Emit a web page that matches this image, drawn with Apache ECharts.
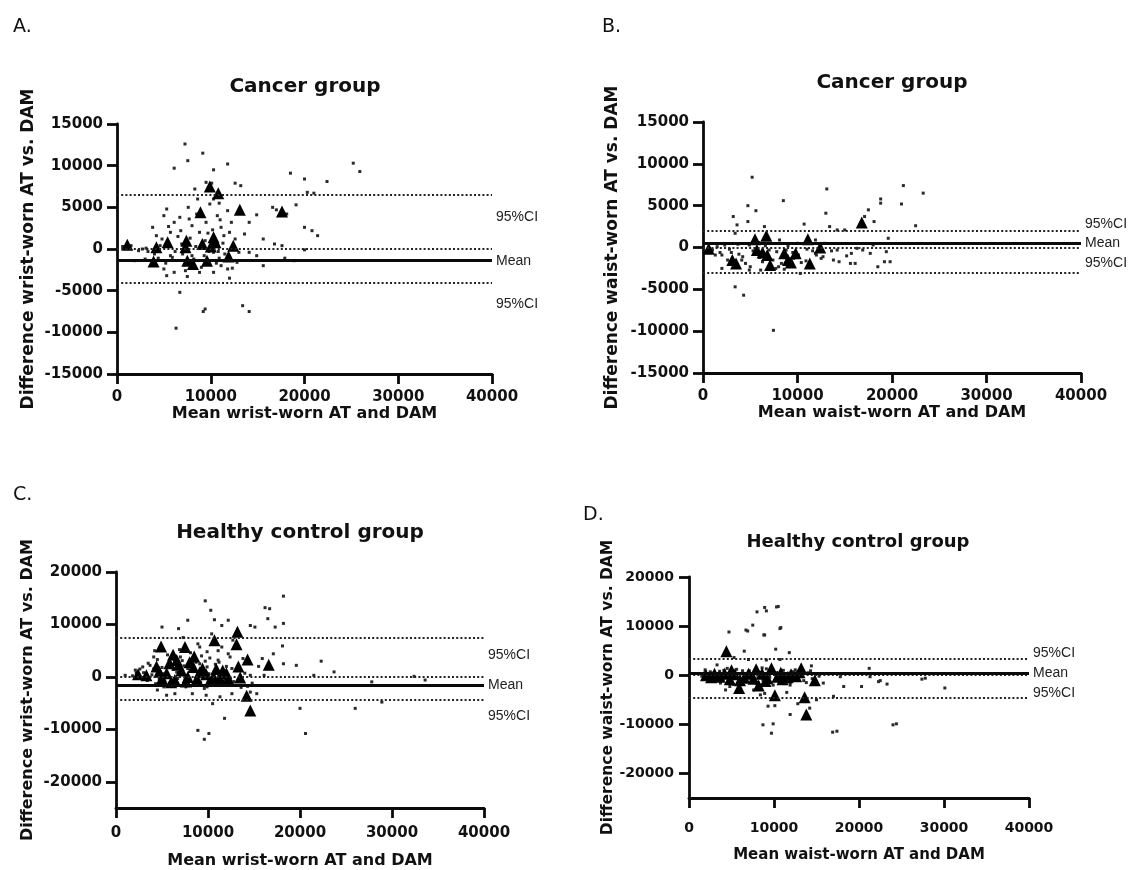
<!DOCTYPE html>
<html><head><meta charset="utf-8">
<script src="https://cdn.jsdelivr.net/npm/echarts@6/dist/echarts.min.js"></script>
<style>html,body{margin:0;padding:0;background:#fff}#c{width:1132px;height:870px}</style>
</head><body><div id="c"></div>
<script>
// ---------- tick labels ----------
const xTicks = [0, 10000, 20000, 30000, 40000];
const yTicksCancer = [-15000, -10000, -5000, 0, 5000, 10000, 15000];
const yTicksHealthy = [-20000, -10000, 0, 10000, 20000];

// ---------- texts ----------
const letters = ['A.', 'B.', 'C.', 'D.'];
const titles = ['Cancer group', 'Cancer group', 'Healthy control group', 'Healthy control group'];
const yNames = ['Difference wrist-worn AT vs. DAM', 'Difference waist-worn AT vs. DAM', 'Difference wrist-worn AT vs. DAM', 'Difference waist-worn AT vs. DAM'];
const xNames = ['Mean wrist-worn AT and DAM', 'Mean waist-worn AT and DAM', 'Mean wrist-worn AT and DAM', 'Mean waist-worn AT and DAM'];
const lineLabels = ['95%CI', 'Mean', '95%CI'];

// ---------- Panel A: cancer, wrist ----------
const aMean = -1400;
const aCI = [6500, -4000];
const aTriangles = [[1100,500],[4200,200],[5400,800],[3900,-1500],[7400,1000],[7500,-1400],[8100,-1800],[9100,600],[8900,4400],[9900,7500],[10800,6700],[10300,1400],[10500,800],[9600,-1400],[11900,-900],[12400,400],[13100,4700],[17600,4500],[7300,200],[10000,300]];
const aDots = [[7250,12600],[7550,10600],[6100,9700],[9150,11500],[10300,9500],[11800,10200],[12600,7900],[13200,7600],[18500,9100],[20000,8400],[22400,8100],[25200,10300],[25900,9300],[19100,5300],[20300,6800],[21000,6700],[20000,2600],[20800,2200],[21400,1600],[18100,4200],[17000,4700],[16600,5000],[14900,4100],[14100,3200],[15600,1200],[16800,600],[17600,400],[20000,-100],[15600,-2000],[14100,-7500],[13400,-6800],[9200,-7500],[9400,-7200],[6300,-9500],[6700,-5200],[9900,5400],[10300,6000],[8600,6000],[7600,5000],[5000,4000],[5300,4800],[6700,3800],[3800,2600],[4200,1600],[5700,2000],[6100,3200],[8000,2800],[8800,2000],[9500,3200],[11100,2600],[12200,3200],[11400,1600],[6900,600],[5700,-800],[5000,-2400],[6100,-2800],[7300,-2600],[8000,-800],[8800,-2800],[10300,-2800],[11100,-2000],[11800,-2400],[2700,0],[1900,-1400],[3100,100],[14100,-400],[14900,-800],[10300,-400],[12600,1200],[10700,4000],[11800,4600],[17900,-1100],[18900,-1400],[3300,-300],[4600,400],[5900,-1000],[6500,1500],[7000,-600],[8400,300],[9300,-800],[10800,-300],[11300,700],[12800,-1600],[600,300],[2300,-200],[4400,-1100],[7800,1300],[9700,1900],[10900,-1100],[4000,-600],[4800,1200],[5200,-1700],[5500,2700],[6200,-300],[6800,2200],[7200,-1900],[7700,3600],[8200,-1200],[8500,4200],[9000,-2200],[9400,1000],[9800,-300],[10200,2300],[10600,-1700],[11000,3500],[11500,-600],[12000,2000],[12300,-2300],[13000,-400],[13600,1800],[8300,7200],[9500,8000],[10100,7900],[10900,5500],[12000,-3500],[7500,-3300],[5300,-3200],[3000,-1200],[1500,400]];

// ---------- Panel B: cancer, waist ----------
const bMean = 500;
const bCI = [2000, -3000];
const bTriangles = [[600,-150],[3100,-1500],[3500,-1900],[5500,1000],[6700,1400],[6300,-600],[6800,-900],[7100,-2100],[8600,-700],[9000,-1500],[9300,-1800],[9800,-700],[11100,1000],[11300,-1900],[12400,0],[16800,3000],[5700,-300]];
const bDots = [[5200,8400],[4750,5000],[5600,4400],[3200,3700],[3600,2700],[4750,3100],[8500,5600],[13100,7000],[13000,4100],[10700,2800],[18800,5800],[18800,5300],[21000,5200],[21200,7400],[23300,6500],[22500,2600],[17500,4500],[17100,3700],[18100,3100],[19600,1100],[3400,-4700],[4300,-5700],[7450,-9900],[2000,-2500],[4900,-2700],[8000,-2300],[10300,-3100],[12700,-1100],[13800,-1500],[14400,-1700],[15600,-1900],[15700,-700],[16900,-300],[18500,-2300],[19200,-1700],[19800,-1700],[19400,-500],[13400,2500],[14200,2100],[15000,2100],[11900,900],[10000,500],[1500,100],[2000,-900],[2600,-1500],[4200,-1100],[4900,300],[9600,-1300],[11900,-700],[14200,-300],[16300,-100],[17700,-700],[6100,-2700],[3400,1700],[6500,2500],[1000,-300],[1800,-600],[2800,-200],[3800,-800],[4500,-1900],[5300,-400],[6000,-1200],[6600,200],[7400,-1500],[7800,-500],[8300,-1900],[8800,-300],[9300,-2200],[10100,-900],[10900,-1600],[11600,-400],[12500,-1300],[700,-500],[1300,-900],[2300,300],[3000,-600],[3700,400],[4100,-1500],[5000,-2300],[5500,-800],[5900,600],[6300,-1700],[7000,-300],[7700,-2500],[8100,900],[8600,-2600],[9000,200],[9500,-600],[10400,-1800],[11000,-200],[12000,-900],[12900,500],[13600,-400],[15200,-1000],[16100,-1900],[18000,300]];

// ---------- Panel C: healthy, wrist ----------
const cMean = -1600;
const cCI = [7400, -4300];
const cTriangles = [[4900,5800],[7500,5700],[6200,4200],[8500,3900],[10700,7000],[13200,8600],[13100,6200],[14300,3300],[16600,2300],[13300,2000],[13500,-100],[14200,-3600],[14600,-6400],[6800,2300],[5500,700],[6400,-600],[7800,0],[9100,900],[10600,0],[11600,1200],[12200,-300],[8400,1900],[2400,500],[3300,300],[4700,1000],[9800,500],[4400,2000],[5000,-300],[5800,2600],[6000,-1000],[6600,3200],[7100,1200],[7600,-900],[8000,2800],[8800,-400],[9400,1600],[10200,-800],[10900,1500],[11300,-200],[12000,700]];
const cDots = [[9700,14500],[10300,12700],[10700,10900],[18200,15400],[16200,13200],[16700,13000],[16500,11100],[17300,9500],[18200,10200],[14600,9800],[15100,9500],[12200,10800],[11500,9800],[7800,10800],[6800,9200],[5000,9500],[18100,5900],[19600,2200],[18200,2500],[17100,4400],[15900,3500],[22300,3000],[23700,950],[21500,300],[32400,100],[33600,-600],[27800,-950],[28900,-4800],[26000,-6000],[20000,-6000],[20600,-10800],[8900,-10200],[9600,-11900],[10100,-10800],[11800,-7900],[10500,-5100],[8300,-3200],[6400,-3200],[4500,-2500],[3700,2200],[2900,1900],[4100,3800],[9100,5700],[9900,4800],[11500,5700],[12200,4400],[11100,3200],[9100,2500],[12600,-3200],[14600,-2900],[15300,-3200],[11300,-3800],[9900,-1900],[7600,-1900],[5200,-1900],[14600,300],[16100,300],[13400,1300],[2100,1300],[1000,300],[2200,800],[2600,1500],[3100,-400],[3500,2600],[3900,400],[4300,-1300],[4500,3300],[5000,1800],[5300,-800],[5600,4200],[5900,2700],[6300,-1500],[6600,900],[6900,5200],[7200,3100],[7500,-500],[7800,1600],[8100,4600],[8400,-1200],[8700,2800],[9000,600],[9300,4000],[9600,-2200],[9900,1900],[10200,3600],[10500,-400],[10800,2400],[11100,5000],[11400,900],[11700,-1600],[12000,2000],[12400,3800],[12800,-900],[13100,1200],[13600,-2000],[14000,700],[14800,-1200],[15500,2000],[1800,200],[2500,-200],[3000,800],[3400,-700],[4100,1500],[4700,-500],[5200,600],[5800,-1200],[6200,1400],[6700,-300],[7000,3800],[7400,2100],[8000,-600],[8500,1000],[9200,-1000],[9700,3000],[10100,600],[10700,-1500],[11200,2800],[11900,-400],[12600,1600],[13800,3500],[14300,-1800],[4200,5000],[7300,7500],[8900,6300],[10400,8200],[12700,7000],[5500,-3500],[9800,-3500]];

// ---------- Panel D: healthy, waist ----------
const dMean = 400;
const dCI = [3400, -4500];
const dTriangles = [[4400,4900],[5900,-2600],[8200,-2100],[10100,-4100],[13600,-4500],[13800,-8000],[14800,-1000],[13200,1400],[5000,1000],[7900,1200],[9700,1400],[3000,300],[6500,-500],[11000,-800],[12000,200],[9200,-600],[2000,0],[2600,-400],[3600,-300],[4200,300],[4800,-800],[5400,200],[6000,-1000],[7000,300],[7600,-700],[8600,300],[9000,-1200],[10400,-300],[10800,500],[11600,-400],[12600,-200],[13000,600]];
const dDots = [[10300,13900],[8000,12900],[10700,9500],[8800,8200],[7500,10200],[6900,9000],[4700,8800],[6500,4900],[10200,5300],[11800,4600],[21200,1400],[22300,-1300],[20300,-2300],[23300,-1800],[27400,-800],[18200,-2300],[15800,-1600],[17000,-4300],[15000,-5000],[14200,-6700],[11900,-8000],[9300,-6300],[10100,-6200],[8700,-10100],[24000,-10100],[11900,-2000],[8400,-4000],[7600,-3000],[4800,-2300],[3600,-950],[2500,100],[1900,1100],[3300,2100],[9100,3100],[10700,3200],[14400,1900],[17800,-300],[21300,-300],[17400,-11400],[24400,-9900],[30100,-2600],[27800,-600],[22500,-1100],[8900,13800],[10500,14000],[9100,13100],[10800,9700],[8900,8200],[6700,9200],[9900,-9900],[9700,-11800],[16900,-11600],[1700,300],[2100,-400],[2500,700],[2900,-1000],[3300,200],[3700,-1600],[4100,1000],[4400,-300],[4800,500],[5200,-1900],[5600,1200],[6000,-600],[6400,300],[6700,-1300],[7100,900],[7500,-200],[7900,-1700],[8300,600],[8700,-1000],[9100,1300],[9500,-400],[9900,-2000],[10300,500],[10700,-1200],[11100,1000],[11500,-300],[11900,-1500],[12300,700],[12700,-600],[13100,300],[13500,-1100],[14000,500],[14500,-700],[15300,-200],[1500,-200],[1900,600],[2300,-700],[2800,400],[3200,-400],[3600,800],[4000,-900],[4500,1400],[5000,-500],[5500,300],[5900,-1400],[6300,900],[6800,-200],[7300,-1100],[7700,700],[8100,-500],[8600,1500],[9000,-1600],[9400,400],[9800,900],[10200,-900],[10600,200],[11200,-1700],[11700,400],[12100,-1000],[12500,1100],[13300,-300],[13800,-1500],[14300,900],[15000,-1400],[4300,-3000],[6100,-3300],[8900,-3700],[11500,-3500],[12800,-5800],[7000,3200],[5300,3600]];

// ---------- layout (pixels) ----------
const layout = [
  {left:117, top:124, width:375, height:250, yMin:-15000, yMax:15000, yTicks:yTicksCancer, tick:15, xMargin:16, yMargin:14, xGap:28, yGap:80, xFont:16, yFont:17, titleX:305, titleY:87, titleFont:20, letterX:13, letterY:27, lblOff:[22,0,22]},
  {left:703, top:122, width:378, height:251, yMin:-15000, yMax:15000, yTicks:yTicksCancer, tick:15, xMargin:16, yMargin:14, xGap:27, yGap:82, xFont:16, yFont:17, titleX:892, titleY:83, titleFont:20, letterX:602, letterY:27, lblOff:[-7,0,-9]},
  {left:116, top:572, width:368, height:236, yMin:-25000, yMax:20000, yTicks:yTicksHealthy, tick:15, xMargin:18, yMargin:14, xGap:45, yGap:80, xFont:16, yFont:16, titleX:300, titleY:533, titleFont:20, letterX:13, letterY:495, lblOff:[17,0,17]},
  {left:689, top:577, width:340, height:221, yMin:-25000, yMax:20000, yTicks:yTicksHealthy, tick:14, xMargin:23, yMargin:15, xGap:50, yGap:72, xFont:15, yFont:15.5, titleX:858, titleY:542, titleFont:18, letterX:583, letterY:515, lblOff:[-5,0,-4]}
];
const panelData = [
  {dots:aDots, tri:aTriangles, mean:aMean, ci:aCI},
  {dots:bDots, tri:bTriangles, mean:bMean, ci:bCI},
  {dots:cDots, tri:cTriangles, mean:cMean, ci:cCI},
  {dots:dDots, tri:dTriangles, mean:dMean, ci:dCI}
];

const FB = 'DejaVu Sans';
const chart = echarts.init(document.getElementById('c'), null, {renderer:'canvas'});
const grids = [], xAxes = [], yAxes = [], series = [], graphics = [];

layout.forEach((L, i) => {
  const P = panelData[i];
  grids.push({left:L.left, top:L.top, width:L.width, height:L.height, containLabel:false});
  const axisLineStyle = {color:'#0a0a0a', width:2.8};
  xAxes.push({
    gridIndex:i, type:'value', min:xTicks[0], max:xTicks[xTicks.length-1], interval:xTicks[1]-xTicks[0],
    axisLine:{show:true, onZero:false, lineStyle:axisLineStyle},
    axisTick:{show:true, length:10, lineStyle:{color:'#0a0a0a', width:2.8}},
    axisLabel:{margin:L.xMargin, fontFamily:FB, fontWeight:'bold', fontSize:L.tick, color:'#111', formatter:v => String(v)},
    splitLine:{show:false},
    name:xNames[i], nameLocation:'middle', nameGap:L.xGap,
    nameTextStyle:{fontFamily:FB, fontWeight:'bold', fontSize:L.xFont, color:'#111'}
  });
  yAxes.push({
    gridIndex:i, type:'value', min:L.yMin, max:L.yMax,
    axisLine:{show:true, onZero:false, lineStyle:axisLineStyle},
    axisTick:{show:true, length:10, lineStyle:{color:'#0a0a0a', width:2.8}, customValues:L.yTicks},
    axisLabel:{margin:L.yMargin, fontFamily:FB, fontWeight:'bold', fontSize:L.tick, color:'#111', formatter:v => String(v), customValues:L.yTicks},
    splitLine:{show:false},
    name:yNames[i], nameLocation:'middle', nameGap:L.yGap, nameRotate:90,
    nameTextStyle:{fontFamily:FB, fontWeight:'bold', fontSize:L.yFont, color:'#111'}
  });
  const dotted = {type:[2,2.2], width:2, color:'#222'};
  series.push({
    type:'scatter', xAxisIndex:i, yAxisIndex:i, data:P.dots, symbol:'rect', symbolSize:3,
    itemStyle:{color:'#2a2a2a', opacity:1}, silent:true, animation:false, z:2,
    markLine:{silent:true, symbol:['none','none'], animation:false, label:{show:false},
      data:[
        {yAxis:0, lineStyle:dotted},
        {yAxis:P.ci[0], lineStyle:dotted},
        {yAxis:P.ci[1], lineStyle:dotted},
        {yAxis:P.mean, lineStyle:{type:'solid', width:3, color:'#0a0a0a'}}
      ]}
  });
  series.push({
    type:'scatter', xAxisIndex:i, yAxisIndex:i, data:P.tri, symbol:'triangle', symbolSize:12,
    itemStyle:{color:'#000', opacity:1}, silent:true, animation:false, z:3
  });
  graphics.push({type:'text', x:L.letterX, y:L.letterY, style:{text:letters[i], font:'19px "DejaVu Sans"', fill:'#111', verticalAlign:'middle'}});
  graphics.push({type:'text', x:L.titleX, y:L.titleY, style:{text:titles[i], font:'bold '+L.titleFont+'px "DejaVu Sans"', fill:'#111', align:'center', verticalAlign:'middle'}});
});

chart.setOption({
  backgroundColor:'#fff', animation:false,
  grid:grids, xAxis:xAxes, yAxis:yAxes, series:series, graphic:graphics
});

// labels at the right end of the reference lines
layout.forEach((L, i) => {
  const P = panelData[i];
  const vals = [P.ci[0], P.mean, P.ci[1]];
  vals.forEach((v, k) => {
    const p = chart.convertToPixel({gridIndex:i}, [xTicks[xTicks.length-1], v]);
    graphics.push({type:'text', x:p[0]+4, y:p[1]+L.lblOff[k], style:{text:lineLabels[k], font:'14px "Liberation Sans"', fill:'#222', verticalAlign:'middle'}});
  });
});
chart.setOption({graphic:graphics});
</script></body></html>
